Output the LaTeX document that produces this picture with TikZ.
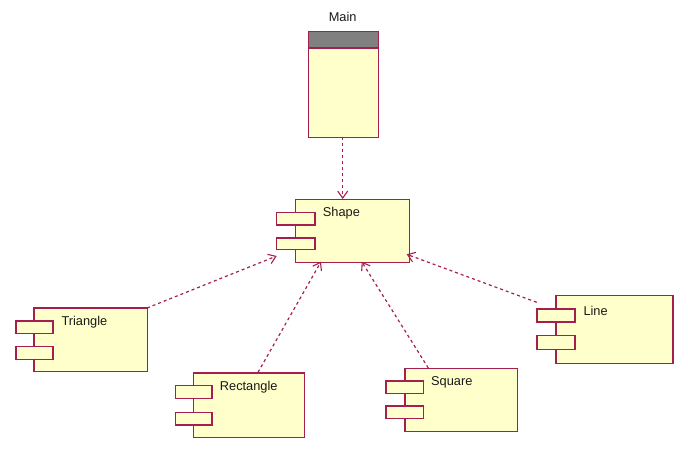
\documentclass[tikz,border=0pt]{standalone}
\usepackage{fontspec}
\setmainfont{Liberation Sans}
\usetikzlibrary{arrows.meta}
\definecolor{bord}{RGB}{165,30,80}
\definecolor{fillc}{RGB}{255,255,204}
\definecolor{headc}{RGB}{128,128,128}
\tikzset{
  comp/.style={draw=bord, fill=fillc, line width=1.3pt, rectangle, inner sep=0pt, anchor=north west},
  lbl/.style={anchor=west, inner sep=0pt, font=\fontsize{12.8}{14}\selectfont, text=black!90},
  dep/.style={draw=bord, line width=1.2pt, dash pattern=on 3pt off 3pt, -{Straight Barb[length=7pt,width=10pt,line width=1.1pt]}}
}
\begin{document}
\begin{tikzpicture}[x=1pt,y=-1pt]
\useasboundingbox (0,0) rectangle (688,456);
% Main
\node[comp, minimum width=70pt, minimum height=105.7pt] (main) at (307.7,31) {};
\node[comp, fill=headc, minimum width=70pt, minimum height=16.3pt] (mainhead) at (307.7,31) {};
\node[anchor=center, inner sep=0pt, font=\fontsize{12.8}{14}\selectfont, text=black!90] (mainlbl) at (342.7,17) {Main};
% Shape
\node[comp, minimum width=114pt, minimum height=62.7pt] (shape) at (294.7,199) {};
\node[comp, minimum width=38.6pt, minimum height=12.6pt] (shapea) at (275.7,211.7) {};
\node[comp, minimum width=38.6pt, minimum height=11.7pt] (shapeb) at (275.7,237.3) {};
\node[lbl] (shapelbl) at (322.7,213) {Shape};
% Triangle
\node[comp, minimum width=113.7pt, minimum height=63.7pt] (tri) at (33.3,307.3) {};
\node[comp, minimum width=37pt, minimum height=12.7pt] (tria) at (15.3,320.3) {};
\node[comp, minimum width=37pt, minimum height=13pt] (trib) at (15.3,345.7) {};
\node[lbl] (trilbl) at (61.3,321.7) {Triangle};
% Rectangle
\node[comp, minimum width=111pt, minimum height=64.4pt] (rect) at (192.7,372.3) {};
\node[comp, minimum width=36.6pt, minimum height=12.7pt] (recta) at (174.7,385) {};
\node[comp, minimum width=36.6pt, minimum height=12.6pt] (rectb) at (174.7,411.7) {};
\node[lbl] (rectlbl) at (219.7,387.5) {Rectangle};
% Square
\node[comp, minimum width=112.7pt, minimum height=62.7pt] (sq) at (404.3,368) {};
\node[comp, minimum width=37.4pt, minimum height=12.7pt] (sqa) at (385.3,380.3) {};
\node[comp, minimum width=37.4pt, minimum height=12.7pt] (sqb) at (385.3,405.3) {};
\node[lbl] (sqlbl) at (431,382) {Square};
% Line
\node[comp, minimum width=117pt, minimum height=68pt] (line) at (555.3,294.7) {};
\node[comp, minimum width=38pt, minimum height=13pt] (linea) at (536.3,308.3) {};
\node[comp, minimum width=38pt, minimum height=14pt] (lineb) at (536.3,335) {};
\node[lbl] (linelbl) at (583.3,311) {Line};
% connector ends
\coordinate (mainS) at (342.7,136.7);
\coordinate (shapeN) at (342.7,199);
\coordinate (triS) at (147,308);
\coordinate (triT) at (276.7,256);
\coordinate (rectS) at (258,372.3);
\coordinate (rectT) at (321,261.7);
\coordinate (sqS) at (428.3,368);
\coordinate (sqT) at (361.7,261.7);
\coordinate (lineS) at (536.7,302.3);
\coordinate (lineT) at (406.7,254.3);
\draw[dep] (mainS) -- (shapeN);
\draw[dep] (triS) -- (triT);
\draw[dep] (rectS) -- (rectT);
\draw[dep] (sqS) -- (sqT);
\draw[dep] (lineS) -- (lineT);
\end{tikzpicture}
\end{document}
